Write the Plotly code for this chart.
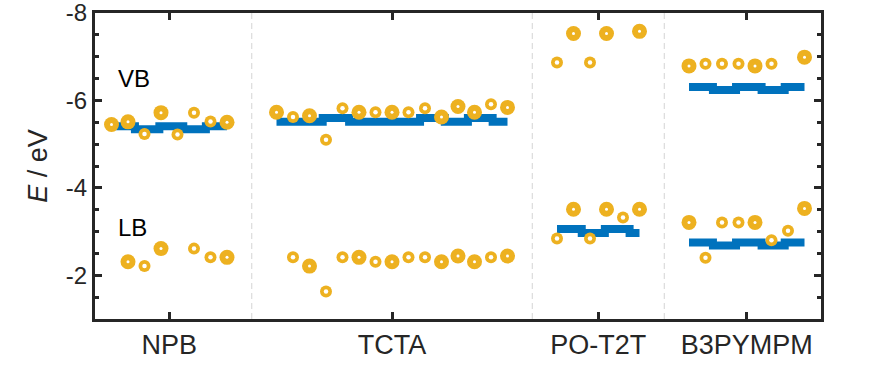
import plotly.graph_objects as go

# ---------------- data ----------------
groups = ["NPB", "TCTA", "PO-T2T", "B3PYMPM"]
group_sizes = [8, 15, 6, 8]
group_step = 3  # distance between last slot of a group and first slot of next

# marker kind per slot (1 = large filled ring, 0 = small ring)
npb_kind = [1, 1, 0, 1, 0, 0, 0, 1]
tcta_kind = [1, 0, 1, 0, 0, 1, 0, 1, 0, 0, 1, 1, 1, 0, 1]
pot2t_kind = [0, 1, 0, 1, 0, 1]
b3py_kind = [1, 0, 0, 0, 1, 0, 0, 1]

# valence band (VB) energies, eV
npb_vb = [-5.45, -5.51, -5.23, -5.72, -5.22, -5.72, -5.52, -5.50]
tcta_vb = [-5.73, -5.62, -5.65, -5.10, -5.82, -5.73, -5.73, -5.73, -5.73,
           -5.82, -5.62, -5.86, -5.73, -5.91, -5.84]
pot2t_vb = [-6.87, -7.53, -6.87, -7.53, None, -7.58]
b3py_vb = [-6.79, -6.84, -6.84, -6.84, -6.79, -6.84, None, -6.99]

# lower band (LB) energies, eV
npb_lb = [None, -2.31, -2.21, -2.61, None, -2.61, -2.41, -2.41]
tcta_lb = [None, -2.41, -2.21, -1.63, -2.41, -2.41, -2.31, -2.31, -2.41,
           -2.41, -2.31, -2.44, -2.31, -2.41, -2.44]
pot2t_lb = [-2.84, -3.51, -2.84, -3.51, -3.32, -3.51]
b3py_lb = [-3.21, -2.40, -3.21, -3.21, -3.21, -2.80, -3.02, -3.53]

# reference (experimental) levels drawn as stepped bars:
# edges given as offsets from the group's first slot, levels per segment
npb_vb_ref_edges = [0, 1.42, 2.9, 4.35, 5.72, 7]
npb_vb_ref_levels = [-5.41, -5.34, -5.41, -5.34, -5.41]
tcta_vb_ref_edges = [0, 2.8, 4.4, 8.7, 10.2, 11.6, 13.1, 14]
tcta_vb_ref_levels = [-5.51, -5.60, -5.51, -5.60, -5.51, -5.60, -5.51]
pot2t_lb_ref_edges = [0, 1.5, 2.9, 4.4, 5]
pot2t_lb_ref_levels = [-3.06, -2.97, -3.06, -2.97]
b3py_vb_ref_edges = [0, 1.45, 2.85, 4.4, 5.8, 7]
b3py_vb_ref_levels = [-6.31, -6.24, -6.31, -6.24, -6.31]
b3py_lb_ref_edges = [0, 1.45, 2.85, 4.4, 5.8, 7]
b3py_lb_ref_levels = [-2.75, -2.68, -2.75, -2.68, -2.75]

y_ticks = [-8, -6, -4, -2]
y_tick_labels = ["-8", "-6", "-4", "-2"]

# ---------------- build ----------------
BLUE = "#0072BD"
GOLD = "#EDB120"
INK = "#262626"
FONT = "Liberation Sans, Arial, sans-serif"

starts = []
s = 1
for n in group_sizes:
    starts.append(s)
    s += n - 1 + group_step
positions = [[st + i for i in range(n)] for st, n in zip(starts, group_sizes)]
centers = [(p[0] + p[-1]) / 2 for p in positions]
separators = [(positions[i][-1] + positions[i + 1][0]) / 2 for i in range(len(groups) - 1)]
x_lo = positions[0][0] - 1
x_hi = positions[-1][-1] + 1

kinds = [npb_kind, tcta_kind, pot2t_kind, b3py_kind]
vbs = [npb_vb, tcta_vb, pot2t_vb, b3py_vb]
lbs = [npb_lb, tcta_lb, pot2t_lb, b3py_lb]

fig = go.Figure()

refs = [
    (0, npb_vb_ref_edges, npb_vb_ref_levels),
    (1, tcta_vb_ref_edges, tcta_vb_ref_levels),
    (2, pot2t_lb_ref_edges, pot2t_lb_ref_levels),
    (3, b3py_vb_ref_edges, b3py_vb_ref_levels),
    (3, b3py_lb_ref_edges, b3py_lb_ref_levels),
]
for gi, edges, levels in refs:
    xs = [starts[gi] + e for e in edges]
    ys = list(levels) + [levels[-1]]
    fig.add_trace(go.Scatter(
        x=xs, y=ys, mode="lines", line=dict(color=BLUE, width=8, shape="hv"),
        hoverinfo="skip", showlegend=False))

for band in (vbs, lbs):
    xs, ys, sz, hole = [], [], [], []
    for gi in range(len(groups)):
        for xi, yv, k in zip(positions[gi], band[gi], kinds[gi]):
            if yv is None:
                continue
            xs.append(xi)
            ys.append(yv)
            sz.append(15 if k else 12)
            hole.append(3 if k else 4.5)
    fig.add_trace(go.Scatter(
        x=xs, y=ys, mode="markers",
        marker=dict(symbol="circle", color=GOLD, size=sz, opacity=1, line=dict(width=0)),
        showlegend=False))
    fig.add_trace(go.Scatter(
        x=xs, y=ys, mode="markers", hoverinfo="skip",
        marker=dict(symbol="circle", color="white", size=hole, opacity=1, line=dict(width=0)),
        showlegend=False))

for sx in separators:
    fig.add_shape(type="line", x0=sx, x1=sx, xref="x", y0=0, y1=1, yref="paper",
                  line=dict(color="#d4d4d4", width=1, dash="6px,4px"), layer="below")

fig.add_annotation(x=1.3, y=-6.5, text="VB", showarrow=False, xanchor="left",
                   font=dict(size=24, color="black", family=FONT))
fig.add_annotation(x=1.3, y=-3.1, text="LB", showarrow=False, xanchor="left",
                   font=dict(size=24, color="black", family=FONT))

fig.update_layout(
    width=869, height=378,
    margin=dict(l=95, r=48, t=13, b=59, autoexpand=False),
    paper_bgcolor="white", plot_bgcolor="white",
    font=dict(family=FONT, color=INK, size=22),
)
fig.update_xaxes(
    range=[x_lo, x_hi], tickvals=centers, ticktext=groups, automargin=False,
    ticks="inside", ticklen=7, tickwidth=2.5, tickcolor=INK,
    showline=True, linewidth=3, linecolor=INK, mirror="ticks",
    showgrid=False, zeroline=False, tickfont=dict(size=27),
    ticklabeloverflow="allow",
)
fig.update_yaxes(
    range=[-1, -8], tickvals=y_ticks, ticktext=y_tick_labels, automargin=False,
    ticks="inside", ticklen=7, tickwidth=2.5, tickcolor=INK,
    minor=dict(dtick=0.5, tick0=0, ticks="inside", ticklen=4, tickwidth=2.5, tickcolor=INK),
    showline=True, linewidth=3, linecolor=INK, mirror="ticks",
    showgrid=False, zeroline=False, tickfont=dict(size=24),
    ticklabeloverflow="allow",
    title=dict(text="<i>E</i> / eV", font=dict(size=27), standoff=11),
)

fig.write_html("out.html", config={"displayModeBar": False},
               post_script="document.body.style.margin='0';")
